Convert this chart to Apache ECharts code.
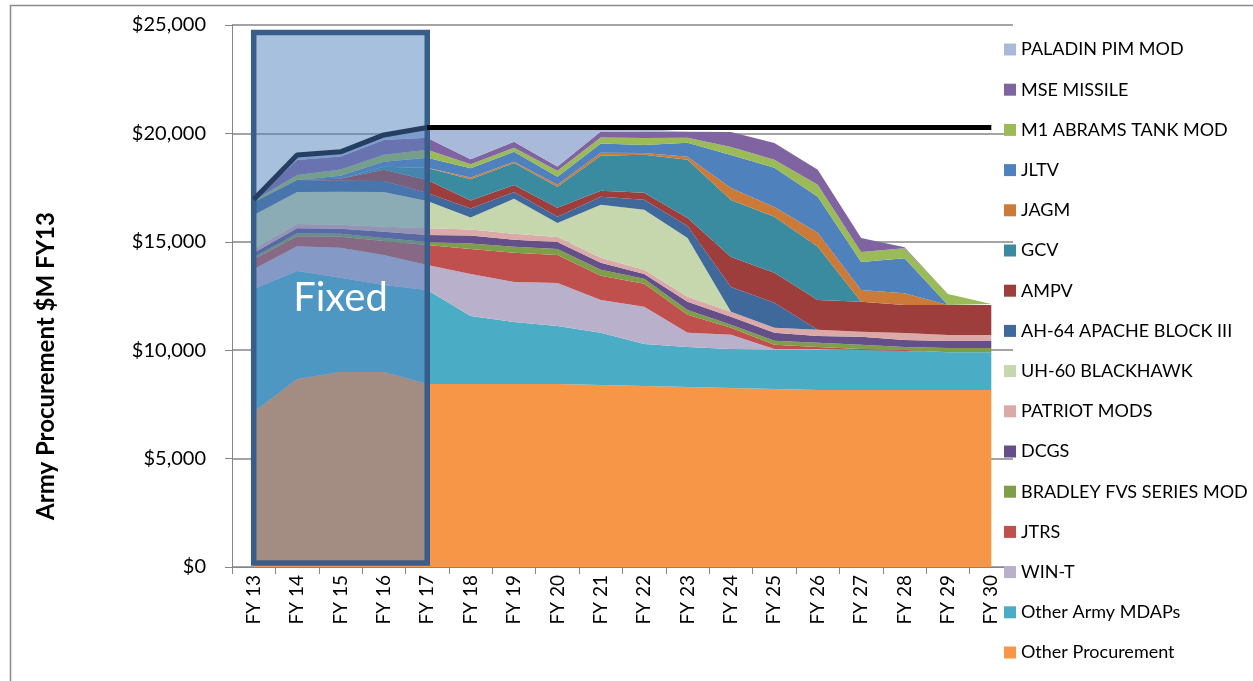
<!DOCTYPE html>
<html>
<head>
<meta charset="utf-8">
<script src="https://cdn.jsdelivr.net/npm/echarts@6/dist/echarts.min.js"></script>
<style>
html,body{margin:0;padding:0;background:#fff;}
#chart{width:1253px;height:681px;}
</style>
</head>
<body>
<div id="chart"></div>
<script>
const categories = ['FY 13','FY 14','FY 15','FY 16','FY 17','FY 18','FY 19','FY 20','FY 21','FY 22','FY 23','FY 24','FY 25','FY 26','FY 27','FY 28','FY 29','FY 30'];

const otherProcurement = [7150, 8670, 9000, 9000, 8440, 8440, 8440, 8440, 8400, 8350, 8300, 8260, 8210, 8160, 8160, 8160, 8160, 8160];
const otherArmyMDAPs   = [5670, 4980, 4340, 4010, 4340, 3140, 2860, 2680, 2400, 1940, 1850, 1800, 1800, 1850, 1850, 1800, 1750, 1750];
const winT             = [920, 1150, 1380, 1380, 1150, 1940, 1850, 1980, 1520, 1710, 650, 650, 50, 50, 0, 0, 0, 0];
const jtrs             = [460, 460, 510, 650, 920, 1150, 1340, 1290, 1110, 1060, 830, 320, 190, 90, 50, 50, 0, 0];
const bradley          = [90, 140, 140, 140, 140, 250, 280, 280, 280, 230, 230, 140, 190, 190, 190, 140, 190, 190];
const dcgs             = [190, 230, 230, 280, 320, 370, 320, 320, 320, 230, 370, 370, 370, 320, 370, 320, 320, 320];
const patriotMods      = [190, 190, 190, 230, 320, 280, 280, 230, 230, 190, 230, 230, 230, 280, 230, 320, 280, 280];
const uh60             = [1570, 1480, 1520, 1610, 1250, 550, 1610, 650, 2450, 2770, 2720, 0, 0, 0, 0, 0, 0, 0];
const ah64             = [600, 550, 510, 510, 370, 420, 320, 280, 370, 460, 550, 1150, 1150, 0, 0, 0, 0, 0];
const ampv             = [0, 0, 90, 510, 600, 370, 320, 420, 280, 320, 370, 1380, 1380, 1380, 1380, 1290, 1380, 1380];
const gcv              = [0, 0, 0, 140, 550, 970, 1020, 970, 1610, 1750, 2680, 2630, 2580, 2450, 0, 0, 0, 0];
const jagm             = [0, 0, 0, 0, 20, 90, 50, 90, 140, 90, 140, 550, 460, 650, 550, 550, 0, 0];
const jltv             = [0, 0, 140, 230, 460, 420, 460, 370, 420, 370, 650, 1520, 1800, 1660, 1290, 1610, 0, 0];
const m1Abrams         = [50, 230, 280, 320, 370, 190, 190, 280, 280, 320, 230, 370, 370, 550, 460, 460, 510, 50];
const mseMissile       = [50, 690, 600, 690, 550, 230, 280, 190, 280, 280, 280, 690, 780, 690, 650, 50, 0, 0];
const paladinPimMod    = [50, 190, 230, 230, 460, 1430, 650, 1800, 140, 140, 0, 0, 0, 0, 0, 0, 0, 0];

// Reference lines
const fixedTotal = [16950, 19000, 19150, 19930, 20270, null, null, null, null, null, null, null, null, null, null, null, null, null];
const capLine    = [null, null, null, null, 20270, 20270, 20270, 20270, 20270, 20270, 20270, 20270, 20270, 20270, 20270, 20270, 20270, 20270];

// Fixed box extent (category range and value range)
const fixedStart = 'FY 13', fixedEnd = 'FY 17', fixedTop = 24650, fixedBottom = 185;

const yTicks = [0, 5000, 10000, 15000, 20000, 25000];

const stackSeries = [
  ['Other Procurement', otherProcurement, '#F79646'],
  ['Other Army MDAPs', otherArmyMDAPs, '#4BACC6'],
  ['WIN-T', winT, '#B9B0CC'],
  ['JTRS', jtrs, '#C0504D'],
  ['BRADLEY FVS SERIES MOD', bradley, '#7E9E48'],
  ['DCGS', dcgs, '#654F89'],
  ['PATRIOT MODS', patriotMods, '#DBA9A8'],
  ['UH-60 BLACKHAWK', uh60, '#C6D6AD'],
  ['AH-64 APACHE BLOCK III', ah64, '#3F699B'],
  ['AMPV', ampv, '#9D3E3D'],
  ['GCV', gcv, '#3A8AA0'],
  ['JAGM', jagm, '#CB7A37'],
  ['JLTV', jltv, '#4F81BD'],
  ['M1 ABRAMS TANK MOD', m1Abrams, '#9BBB59'],
  ['MSE MISSILE', mseMissile, '#8064A2'],
  ['PALADIN PIM MOD', paladinPimMod, '#A8B9DA']
];

const FONT = 'Lato, "Open Sans", sans-serif';

const series = stackSeries.map(([name, data, color]) => ({
  name, type: 'line', stack: 'total', data,
  symbol: 'none', smooth: false, z: 2,
  lineStyle: { width: 0, color },
  itemStyle: { color },
  areaStyle: { color, opacity: 1 },
  emphasis: { disabled: true }
}));

series.push({
  name: 'Fixed total', type: 'line', data: fixedTotal, symbol: 'none', z: 12,
  lineStyle: { width: 5, color: '#243F60' }, itemStyle: { color: '#243F60' },
  markArea: {
    silent: true, z: 10,
    itemStyle: { color: 'rgba(79,129,189,0.5)', borderColor: '#385D8A', borderWidth: 5.5 },
    label: { show: true, position: 'inside', color: '#ffffff', fontSize: 40, fontFamily: FONT },
    data: [[{ name: 'Fixed', coord: [fixedStart, fixedTop] }, { coord: [fixedEnd, fixedBottom] }]]
  }
});
series.push({
  name: 'Cap', type: 'line', data: capLine, symbol: 'none', z: 12,
  lineStyle: { width: 5, color: '#000000' }, itemStyle: { color: '#000000' }
});

const chart = echarts.init(document.getElementById('chart'), null, { renderer: 'canvas' });
chart.setOption({
  animation: false,
  backgroundColor: '#ffffff',
  grid: { left: 232, right: 240, top: 25, bottom: 114, containLabel: false },
  legend: {
    orient: 'vertical', left: 999, top: 34.5,
    itemWidth: 12, itemHeight: 12, itemGap: 20.2, icon: 'rect',
    textStyle: { fontFamily: FONT, fontSize: 18, color: '#000', lineHeight: 20 },
    data: stackSeries.map(s => s[0]).reverse()
  },
  xAxis: {
    type: 'category', data: categories, boundaryGap: true,
    axisLine: { lineStyle: { color: '#868686', width: 1 } },
    axisTick: { show: true, length: 7, lineStyle: { color: '#868686' } },
    axisLabel: { rotate: 90, fontSize: 19, fontFamily: FONT, color: '#000', margin: 8, interval: 0 },
    splitLine: { show: false }
  },
  yAxis: {
    type: 'value', min: yTicks[0], max: yTicks[yTicks.length - 1], interval: 5000,
    axisLine: { show: true, lineStyle: { color: '#868686', width: 1 } },
    axisTick: { show: true, length: 7, lineStyle: { color: '#868686' } },
    axisLabel: { fontSize: 20, fontFamily: FONT, color: '#000', margin: 26,
      formatter: v => '$' + v.toLocaleString('en-US') },
    splitLine: { show: true, lineStyle: { color: '#868686', width: 1.5 } }
  },
  graphic: [
    { type: 'rect', left: 8, top: 3, shape: { width: 1300, height: 720 }, z: -10,
      style: { fill: 'none', stroke: '#8c8c8c', lineWidth: 1.5 }, silent: true },
    { type: 'text', x: 46, y: 366, rotation: Math.PI / 2, z: 20,
      style: { text: 'Army Procurement $M FY13', fontFamily: FONT, fontWeight: 'bold', fontSize: 24,
        fill: '#000', align: 'center', verticalAlign: 'middle' } }
  ],
  series
});
</script>
</body>
</html>
